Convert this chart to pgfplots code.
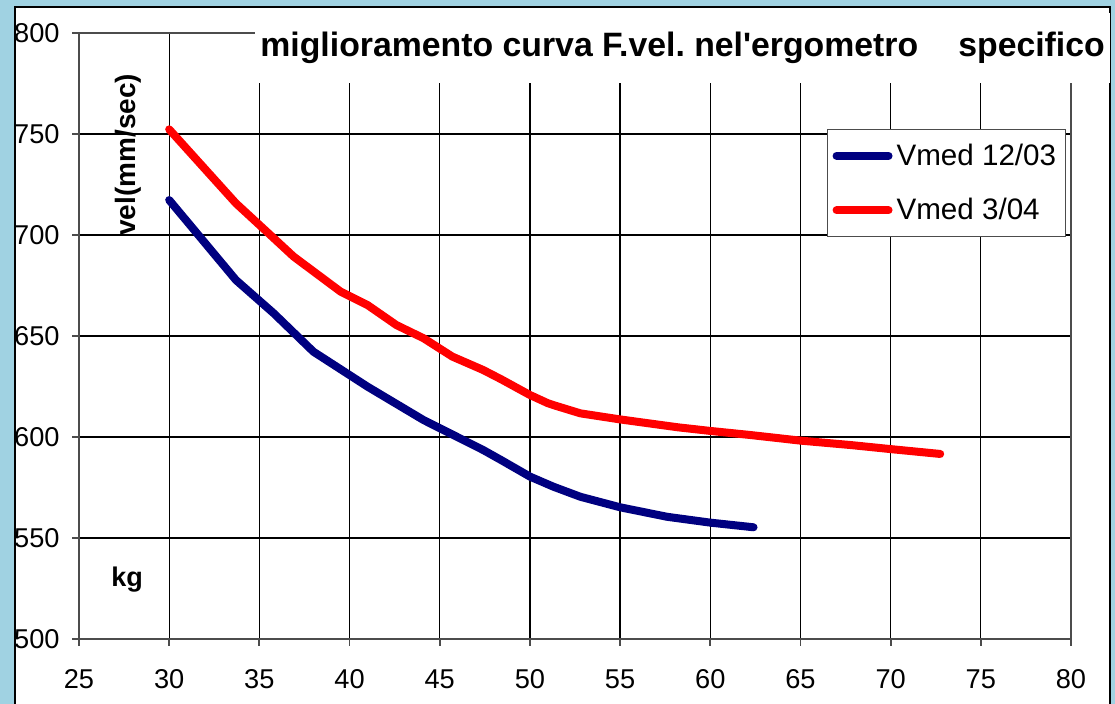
\documentclass[border=0pt]{standalone}
\usepackage{pgfplots}
\pgfplotsset{compat=1.18}
\usepackage{fontspec}
\setmainfont{Liberation Sans}
\definecolor{bgblue}{RGB}{160,210,226}
\definecolor{navyline}{RGB}{0,0,128}
\definecolor{redline}{RGB}{255,0,0}
\frenchspacing
\begin{document}
\begin{tikzpicture}
\useasboundingbox (0pt,0pt) rectangle (557.5pt,352pt);
\fill[bgblue] (0pt,0pt) rectangle (557.5pt,352pt);
\fill[white] (7.5pt,0pt) rectangle (555pt,348.5pt);
\draw[black,line width=0.6pt] (7.5pt,0pt) -- (7.5pt,348.5pt) -- (555pt,348.5pt) -- (555pt,0pt);
\begin{axis}[
  at={(39.5pt,32.5pt)}, anchor=south west,
  scale only axis, width=496pt, height=303pt,
  xmin=25, xmax=80, ymin=500, ymax=800,
  xtick={25,30,35,40,45,50,55,60,65,70,75,80},
  xticklabels={25,30,35,40,45,50,55,60,65,70,75,80},
  ytick={500,550,600,650,700,750,800},
  yticklabels={500,550,600,650,700,750,800},
  grid=major,
  major grid style={black, line width=0.6pt},
  axis line style={gray!60!black, line width=0.9pt},
  tick style={gray!60!black, line width=0.9pt},
  tick align=outside, major tick length=3.5pt,
  xtick pos=left, ytick pos=left,
  tick label style={font=\fontsize{13.6}{15}\selectfont},
  xticklabel style={anchor=north, inner sep=0pt, yshift=-11.5pt},
  yticklabel style={anchor=east, inner sep=0pt, xshift=-6pt},
  xlabel={kg},
  xlabel style={at={(axis description cs:0.0484,0.0974)}, anchor=center, font=\bfseries\fontsize{13.5}{15}\selectfont},
  ylabel={vel(mm/sec)},
  ylabel style={at={(axis description cs:0.0494,0.799)}, anchor=center, font=\bfseries\fontsize{14}{16}\selectfont},
  every axis title shift=0pt,
  title={miglioramento curva F.vel. nel\textquotesingle ergometro\hspace{20pt}specifico},
  title style={at={(axis description cs:0.1774,0.9604)}, anchor=base west, fill=white, inner xsep=2.5pt, inner ysep=9.5pt, font=\bfseries\fontsize{16.9}{20}\selectfont},
  legend style={at={(rel axis cs:0.754,0.8416)}, anchor=north west, draw=gray!60!black, line width=0.6pt, fill=white, font=\fontsize{14.8}{18}\selectfont, row sep=11pt, inner xsep=2.5pt, inner ysep=5pt},
  legend cell align=left,
  legend image code/.code={\draw[#1, line cap=round] (0pt,0pt) -- (26pt,0pt);},
]
\addplot[navyline, line width=4pt, line cap=round, line join=round] coordinates {
(30,717.3) (33.7,677.7) (35.8,661.2) (38,642.2) (41,624.9) (44.1,608.4)
(47.4,593.6) (48.4,588.6) (50,580.4) (51.3,575.4) (52.8,570.4) (55,565.2)
(57.6,560.5) (60,557.6) (62.4,555.3)
};
\addlegendentry{Vmed 12/03}
\addplot[redline, line width=4pt, line cap=round, line join=round] coordinates {
(30,752.3) (33.7,715.7) (35.8,698.4) (36.9,689.3) (39.5,672) (41,665.3)
(42.6,655.4) (44.1,648.9) (45.7,639.8) (47.4,633.2) (48.4,628.6) (50,620.8)
(51,616.7) (51.3,615.8) (52.8,611.7) (55,608.7) (58.2,604.8) (60,603)
(62.2,601) (65,598.2) (67.8,596) (70,594) (72.75,591.6)
};
\addlegendentry{Vmed 3/04}
\end{axis}
\end{tikzpicture}
\end{document}
